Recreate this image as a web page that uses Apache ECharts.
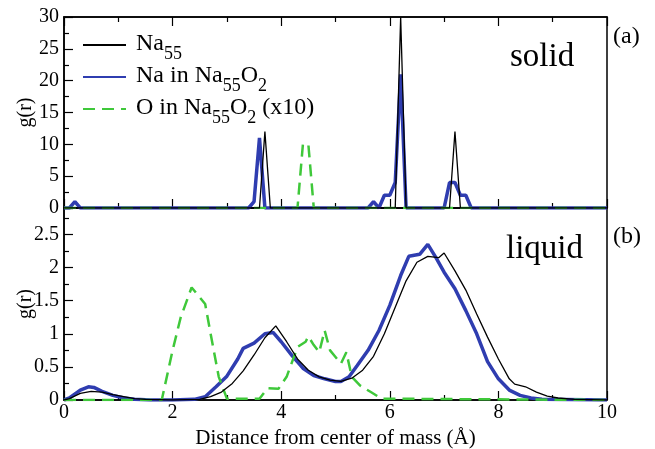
<!DOCTYPE html>
<html>
<head>
    <meta charset="utf-8">
    <title>g(r) - Na55 / Na55O2</title>
    <script src="https://cdn.jsdelivr.net/npm/echarts@6/dist/echarts.min.js"></script>
    <style type="text/css">
        html, body { margin: 0; padding: 0; background: #ffffff; }
        #chart { width: 655px; height: 449px; }
    </style>
</head>
<body>
<div id="chart"></div>
<script>
    // ---- data ----
    // (a) solid
    var solidNa55X = [0, 3.6, 3.7, 3.8, 6.1, 6.2, 6.3, 7.1, 7.2, 7.3, 10];
    var solidNa55Y = [0, 0, 12, 0, 0, 30, 0, 0, 12, 0, 0];
    var solidNaX = [0, 0.1, 0.2, 0.3, 3.4, 3.5, 3.6, 3.7, 5.6, 5.7, 5.8, 5.9, 6.0, 6.1, 6.2, 6.3, 7.0, 7.1, 7.2, 7.3, 7.4, 7.5, 10];
    var solidNaY = [0, 0, 1, 0, 0, 1, 11, 0, 0, 1, 0, 2, 2, 4, 21, 0, 0, 4, 4, 2, 2, 0, 0];
    var solidOX = [0, 4.3, 4.4, 4.5, 4.6, 10];
    var solidOY = [0, 0, 10, 10, 0, 0];

    // (b) liquid
    var liqNa55X = [0, 0.1, 0.3, 0.5, 0.7, 0.9, 1.1, 1.3, 1.5, 2.0, 2.5, 2.7, 2.9, 3.1, 3.3, 3.5, 3.7, 3.9, 4.1, 4.3, 4.5, 4.7, 4.9, 5.1, 5.3, 5.5, 5.7, 5.9, 6.1, 6.3, 6.5, 6.7, 6.9, 7.0, 7.2, 7.4, 7.6, 7.8, 8.0, 8.2, 8.3, 8.5, 8.7, 8.9, 9.1, 9.4, 10];
    var liqNa55Y = [0, 0.02, 0.1, 0.13, 0.12, 0.08, 0.05, 0.02, 0.01, 0, 0.01, 0.05, 0.12, 0.25, 0.44, 0.68, 0.94, 1.12, 0.88, 0.62, 0.45, 0.35, 0.3, 0.28, 0.33, 0.45, 0.66, 1.0, 1.4, 1.8, 2.08, 2.17, 2.15, 2.22, 1.95, 1.66, 1.3, 0.95, 0.62, 0.32, 0.24, 0.2, 0.12, 0.06, 0.03, 0.01, 0];
    var liqNaX = [0, 0.1, 0.3, 0.45, 0.55, 0.7, 0.9, 1.1, 1.3, 1.6, 2.0, 2.4, 2.6, 2.8, 3.0, 3.2, 3.3, 3.5, 3.7, 3.85, 4.0, 4.2, 4.4, 4.6, 4.8, 5.0, 5.1, 5.25, 5.4, 5.6, 5.8, 6.0, 6.2, 6.35, 6.55, 6.7, 6.85, 7.0, 7.2, 7.4, 7.6, 7.8, 8.0, 8.2, 8.4, 8.6, 8.8, 10];
    var liqNaY = [0, 0.03, 0.15, 0.2, 0.19, 0.13, 0.07, 0.03, 0.01, 0, 0, 0.01, 0.05, 0.2, 0.36, 0.62, 0.78, 0.86, 1.0, 1.02, 0.88, 0.67, 0.48, 0.37, 0.32, 0.28, 0.28, 0.35, 0.52, 0.75, 1.05, 1.43, 1.88, 2.17, 2.2, 2.35, 2.15, 1.93, 1.68, 1.35, 1.0, 0.58, 0.32, 0.15, 0.07, 0.03, 0.01, 0];
    var liqOX = [0, 1.8, 2.0, 2.15, 2.35, 2.5, 2.6, 2.7, 2.85, 3.0, 3.6, 3.75, 3.95, 4.1, 4.3, 4.45, 4.5, 4.6, 4.7, 4.8, 4.9, 5.0, 5.1, 5.2, 5.3, 5.45, 5.65, 5.85, 10];
    var liqOY = [0, 0, 0.75, 1.25, 1.7, 1.55, 1.45, 1.0, 0.35, 0.02, 0.02, 0.18, 0.17, 0.35, 0.8, 0.88, 0.96, 0.83, 0.72, 1.05, 0.75, 0.65, 0.55, 0.72, 0.35, 0.22, 0.12, 0.02, 0];

    var seriesNames = ['Na55', 'Na in Na55O2', 'O in Na55O2 (x10)'];
    var legendText = {
        'Na55': '{g| }{t|Na}{s|55}',
        'Na in Na55O2': '{g| }{t|Na in Na}{s|55}{t|O}{s|2}',
        'O in Na55O2 (x10)': '{g| }{t|O in Na}{s|55}{t|O}{s|2}{t| (x10)}'
    };
    var legendTops = [32, 64, 96];

    var serif = 'Liberation Serif';
    var black = '#000000', blue = '#2f3db0', green = '#3fc83a';

    function pairs(xs, ys) {
        return xs.map(function (x, i) { return [x, ys[i]]; });
    }

    function xAxisOf(grid, pos, labels) {
        return {
            type: 'value', gridIndex: grid, position: pos, min: 0, max: 10, interval: 2,
            axisLine: {onZero: false, lineStyle: {color: black, width: 1.5}},
            axisTick: {inside: true, length: 9, lineStyle: {color: black, width: 1.2}},
            minorTick: {show: true, splitNumber: 2, length: 5, lineStyle: {color: black, width: 1.2}},
            splitLine: {show: false},
            axisLabel: {show: labels, color: black, fontFamily: serif, fontSize: 20, margin: 3}
        };
    }

    var xAxes = [xAxisOf(0, 'bottom', false), xAxisOf(0, 'top', false), xAxisOf(1, 'bottom', true)];
    xAxes[2].name = 'Distance from center of mass (Å)';
    xAxes[2].nameLocation = 'middle';
    xAxes[2].nameGap = 28;
    xAxes[2].nameMoveOverlap = false;
    xAxes[2].nameTextStyle = {color: black, fontFamily: serif, fontSize: 21};

    function yAxisOf(grid, max, step) {
        return {
            type: 'value', gridIndex: grid, min: 0, max: max, interval: step,
            name: 'g(r)', nameLocation: 'middle', nameGap: 28, nameMoveOverlap: false,
            nameTextStyle: {color: black, fontFamily: serif, fontSize: 20},
            axisLine: {lineStyle: {color: black, width: 1.5}},
            axisTick: {inside: true, length: 9, lineStyle: {color: black, width: 1.2}},
            minorTick: {show: true, splitNumber: 2, length: 5, lineStyle: {color: black, width: 1.2}},
            splitLine: {show: false},
            axisLabel: {color: black, fontFamily: serif, fontSize: 20, margin: 5, showMaxLabel: grid === 0}
        };
    }

    function line(name, xi, yi, data, color, width, dash, z) {
        return {
            name: name, type: 'line', xAxisIndex: xi, yAxisIndex: yi, data: data,
            symbol: 'none', z: z,
            lineStyle: {color: color, width: width, type: dash || 'solid'},
            itemStyle: {color: color}
        };
    }

    // one legend per entry so each row sits exactly where it does in the picture
    var legends = seriesNames.map(function (name, i) {
        return {
            data: [name],
            orient: 'vertical', left: 82, top: legendTops[i], padding: 0,
            itemWidth: 43, itemHeight: 14,
            itemStyle: {opacity: 0},
            formatter: function (n) { return legendText[n]; },
            textStyle: {
                color: black, fontFamily: serif,
                rich: {
                    g: {width: 5, fontSize: 24, lineHeight: 26, verticalAlign: 'top'},
                    t: {fontSize: 24, lineHeight: 26, fontFamily: serif, color: black, verticalAlign: 'top'},
                    s: {fontSize: 18, lineHeight: 8, padding: [13, 0, 0, 0], fontFamily: serif, color: black, verticalAlign: 'top'}
                }
            }
        };
    });

    var chart = echarts.init(document.getElementById('chart'));
    var option = {
        animation: false,
        backgroundColor: '#ffffff',
        grid: [
            {left: 64, right: 48, top: 17, height: 191, show: true, borderColor: black, borderWidth: 1.5,
                containLabel: false, outerBoundsMode: 'none'},
            {left: 64, right: 48, top: 208, height: 192, show: true, borderColor: black, borderWidth: 1.5,
                containLabel: false, outerBoundsMode: 'none'}
        ],
        xAxis: xAxes,
        yAxis: [yAxisOf(0, 30, 5), yAxisOf(1, 2.9, 0.5)],
        legend: legends,
        graphic: [
            {type: 'text', left: 510, top: 41, style: {text: 'solid', font: '33px "Liberation Serif"', fill: black}},
            {type: 'text', left: 613, top: 25, style: {text: '(a)', font: '24px "Liberation Serif"', fill: black}},
            {type: 'text', left: 506, top: 233, style: {text: 'liquid', font: '33px "Liberation Serif"', fill: black}},
            {type: 'text', left: 613, top: 225, style: {text: '(b)', font: '24px "Liberation Serif"', fill: black}}
        ],
        series: [
            line(seriesNames[1], 0, 0, pairs(solidNaX, solidNaY), blue, 3.5, null, 2),
            line(seriesNames[2], 0, 0, pairs(solidOX, solidOY), green, 2.5, [12, 7], 3),
            line(seriesNames[0], 0, 0, pairs(solidNa55X, solidNa55Y), black, 1.3, null, 4),
            line(seriesNames[1], 2, 1, pairs(liqNaX, liqNaY), blue, 3.5, null, 2),
            line(seriesNames[2], 2, 1, pairs(liqOX, liqOY), green, 2.5, [12, 7], 3),
            line(seriesNames[0], 2, 1, pairs(liqNa55X, liqNa55Y), black, 1.3, null, 4)
        ]
    };
    chart.setOption(option);
</script>
</body>
</html>
